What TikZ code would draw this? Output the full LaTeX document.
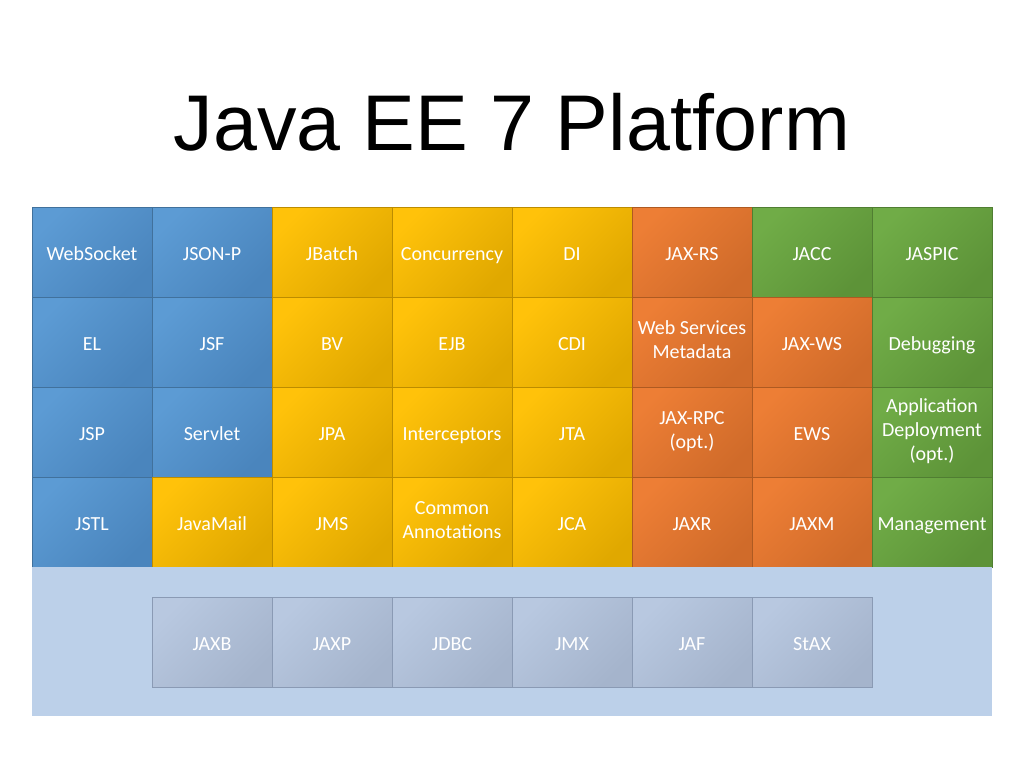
\documentclass[tikz,border=0pt]{standalone}
\usepackage{fontspec}
\setmainfont{Carlito}
\newfontfamily\titlefont{Liberation Sans}
\newcommand\cellstrut{\rule[-4pt]{0pt}{24pt}}
\definecolor{bluehi}{HTML}{5C9BD4}
\definecolor{bluelo}{HTML}{4A85BD}
\definecolor{blueln}{HTML}{41719C}
\definecolor{yellowhi}{HTML}{FFC20A}
\definecolor{yellowlo}{HTML}{E0A800}
\definecolor{yellowln}{HTML}{BC8C00}
\definecolor{orangehi}{HTML}{ED7E35}
\definecolor{orangelo}{HTML}{D06B2A}
\definecolor{orangeln}{HTML}{AE5A21}
\definecolor{greenhi}{HTML}{70AC47}
\definecolor{greenlo}{HTML}{5D9338}
\definecolor{greenln}{HTML}{507E32}
\definecolor{grayhi}{HTML}{B8C8E0}
\definecolor{graylo}{HTML}{A5B4CC}
\definecolor{grayln}{HTML}{8A9AB4}
\definecolor{basebg}{HTML}{BCD0E9}

\begin{document}
\begin{tikzpicture}[x=1pt, y=-1pt,
  cell/.style={rectangle, minimum width=120pt, minimum height=90pt, inner sep=0pt,
    line width=0.5pt, text=white, align=center, font=\fontsize{20}{24}\selectfont,
    execute at begin node=\cellstrut, execute at end node=\cellstrut},
  cellblue/.style={cell, draw=blueln, top color=bluehi, bottom color=bluelo, shading angle=45},
  cellyellow/.style={cell, draw=yellowln, top color=yellowhi, bottom color=yellowlo, shading angle=45},
  cellorange/.style={cell, draw=orangeln, top color=orangehi, bottom color=orangelo, shading angle=45},
  cellgreen/.style={cell, draw=greenln, top color=greenhi, bottom color=greenlo, shading angle=45},
  cellgray/.style={cell, draw=grayln, top color=grayhi, bottom color=graylo, shading angle=45}]
\useasboundingbox[fill=white] (0,0) rectangle (1024,768);
\node[font=\titlefont\fontsize{79}{90}\selectfont, anchor=base] (title) at (512,150) {Java EE 7 Platform};
% row 1
\node[cellblue] (ws) at (92,252) {WebSocket};
\node[cellblue] (jsonp) at (212,252) {JSON-P};
\node[cellyellow] (jbatch) at (332,252) {JBatch};
\node[cellyellow] (conc) at (452,252) {Concurrency};
\node[cellyellow] (di) at (572,252) {DI};
\node[cellorange] (jaxrs) at (692,252) {JAX-RS};
\node[cellgreen] (jacc) at (812,252) {JACC};
\node[cellgreen] (jaspic) at (932,252) {JASPIC};
% row 2
\node[cellblue] (el) at (92,342) {EL};
\node[cellblue] (jsf) at (212,342) {JSF};
\node[cellyellow] (bv) at (332,342) {BV};
\node[cellyellow] (ejb) at (452,342) {EJB};
\node[cellyellow] (cdi) at (572,342) {CDI};
\node[cellorange] (wsmeta) at (692,342) {Web Services\\Metadata};
\node[cellorange] (jaxws) at (812,342) {JAX-WS};
\node[cellgreen] (debug) at (932,342) {Debugging};
% row 3
\node[cellblue] (jsp) at (92,432) {JSP};
\node[cellblue] (servlet) at (212,432) {Servlet};
\node[cellyellow] (jpa) at (332,432) {JPA};
\node[cellyellow] (inter) at (452,432) {Interceptors};
\node[cellyellow] (jta) at (572,432) {JTA};
\node[cellorange] (jaxrpc) at (692,432) {JAX-RPC\\(opt.)};
\node[cellorange] (ews) at (812,432) {EWS};
\node[cellgreen] (appdep) at (932,432) {Application\\Deployment\\(opt.)};
% row 4
\node[cellblue] (jstl) at (92,522) {JSTL};
\node[cellyellow] (mail) at (212,522) {JavaMail};
\node[cellyellow] (jms) at (332,522) {JMS};
\node[cellyellow] (annot) at (452,522) {Common\\Annotations};
\node[cellyellow] (jca) at (572,522) {JCA};
\node[cellorange] (jaxr) at (692,522) {JAXR};
\node[cellorange] (jaxm) at (812,522) {JAXM};
\node[cellgreen] (mgmt) at (932,522) {Management};
% Java SE base
\fill[basebg] (32,567) rectangle (992,716);
\node[cellgray] (jaxb) at (212,642) {JAXB};
\node[cellgray] (jaxp) at (332,642) {JAXP};
\node[cellgray] (jdbc) at (452,642) {JDBC};
\node[cellgray] (jmx) at (572,642) {JMX};
\node[cellgray] (jaf) at (692,642) {JAF};
\node[cellgray] (stax) at (812,642) {StAX};
\end{tikzpicture}
\end{document}
